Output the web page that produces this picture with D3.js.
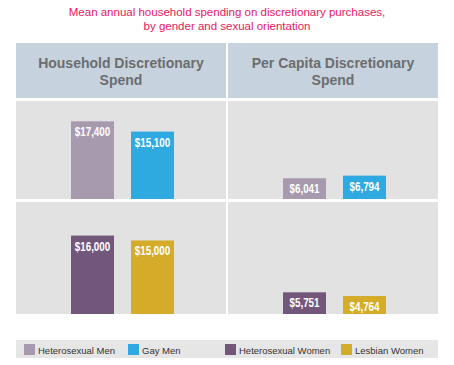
<!DOCTYPE html>
<html>
<head>
<meta charset="utf-8">
<script src="https://d3js.org/d3.v7.min.js"></script>
<style>
  body { margin: 0; background: #fff; }
  svg { display: block; font-family: "Liberation Sans", Arial, sans-serif; }
  .val { font-weight: bold; fill: #fff; }
</style>
</head>
<body>
<svg width="454" height="365"></svg>
<script>
// data
const categories = ["Heterosexual Men", "Gay Men", "Heterosexual Women", "Lesbian Women"];
const householdSpend = [17400, 15100, 16000, 15000];
const perCapitaSpend = [6041, 6794, 5751, 4764];
const panelTitles = [["Household Discretionary", "Spend"], ["Per Capita Discretionary", "Spend"]];
const titleLines = ["Mean annual household spending on discretionary purchases,", "by gender and sexual orientation"];
const colors = ["#a89aae", "#2faae0", "#73577b", "#d4ac29"];

const svg = d3.select("svg");

// layout
const colX = [16, 228], colW = 210;
const rows = [{y: 101, h: 98}, {y: 202, h: 112}];
// each panel has its own scale max (the original bars are not on one scale)
const scaleMax = [[21950, 22850], [28500, 29700]];
const fmt = d3.format("$,.0f");

// title
svg.append("g").selectAll("text").data(titleLines).join("text")
  .attr("x", 227).attr("y", (d, i) => 16 + i * 14)
  .attr("text-anchor", "middle")
  .style("font-size", "11.5px").style("fill", "#e8175d")
  .text(d => d);

// header band
panelTitles.forEach((lines, c) => {
  svg.append("rect").attr("x", colX[c]).attr("y", 43).attr("width", colW).attr("height", 55).attr("fill", "#c6d2de");
  svg.append("g").selectAll("text").data(lines).join("text")
    .attr("x", colX[c] + colW / 2).attr("y", (d, i) => 68 + i * 17)
    .attr("text-anchor", "middle")
    .style("font-size", "14px").style("font-weight", "bold").style("fill", "#6d6d6d")
    .text(d => d);
});

[householdSpend, perCapitaSpend].forEach((vals, c) => {
  rows.forEach((row, r) => {
    svg.append("rect").attr("x", colX[c]).attr("y", row.y).attr("width", colW).attr("height", row.h).attr("fill", "#e2e2e2");
    const idx = [r * 2, r * 2 + 1];
    const x = d3.scaleBand().domain(idx).range([colX[c] + 55, colX[c] + 158]).paddingInner(17 / 60).paddingOuter(0);
    const y = d3.scaleLinear().domain([0, scaleMax[c][r]]).range([row.y + row.h, row.y]);
    const g = svg.append("g");
    g.selectAll("rect").data(idx).join("rect")
      .attr("x", i => x(i)).attr("width", x.bandwidth())
      .attr("y", i => y(vals[i])).attr("height", i => y(0) - y(vals[i]))
      .attr("fill", i => colors[i]);
    // condensed look: squeeze the bold labels horizontally
    g.selectAll("text").data(idx).join("text")
      .attr("class", "val")
      .attr("transform", i => `translate(${x(i) + x.bandwidth() / 2},${y(vals[i]) + 15}) scale(0.82,1)`)
      .attr("text-anchor", "middle")
      .style("font-size", "12px")
      .text(i => fmt(vals[i]));
  });
});

// legend
svg.append("rect").attr("x", 16).attr("y", 340).attr("width", 422).attr("height", 18).attr("fill", "#e6e6e6");
const legX = [24, 128, 225, 341];
const leg = svg.append("g").selectAll("g").data(categories).join("g")
  .attr("transform", (d, i) => `translate(${legX[i]},344)`);
leg.append("rect").attr("width", 11).attr("height", 11).attr("fill", (d, i) => colors[i]);
leg.append("text").attr("x", 14).attr("y", 9.5)
  .style("font-size", "9.5px").style("fill", "#333")
  .text(d => d);
</script>
</body>
</html>
